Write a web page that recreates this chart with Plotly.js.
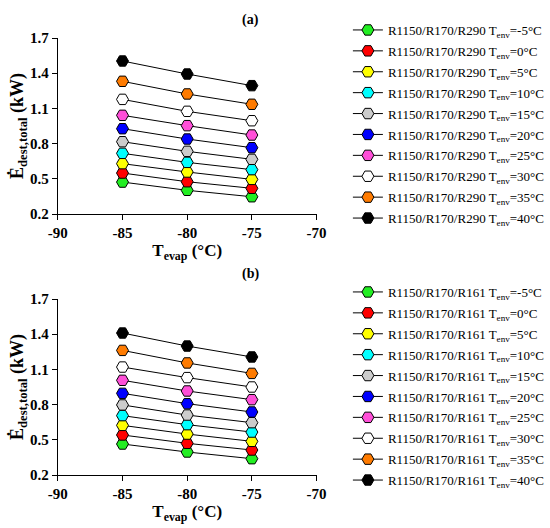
<!DOCTYPE html>
<html>
<head>
<meta charset="utf-8">
<script src="https://cdn.plot.ly/plotly-3.0.1.min.js"></script>
<style>
html,body{margin:0;padding:0;background:#fff;}
#chart{width:550px;height:528px;}
</style>
</head>
<body>
<div id="chart"></div>
<script>
// Evaporator temperatures (°C)
const tEvap = [-85, -80, -75];
// Environment temperatures (°C)
const tEnv = ['-5', '0', '5', '10', '15', '20', '25', '30', '35', '40'];
const markerColors = ['#22ee22', '#ff0000', '#ffff00', '#00ffff', '#cccccc',
                      '#0000ff', '#ff4fd8', '#ffffff', '#ff7b00', '#000000'];
// Total exergy destruction (kW), R1150/R170/R290, one row per Tenv
const r290Values = [
  [0.472, 0.402, 0.347],
  [0.549, 0.475, 0.419],
  [0.629, 0.558, 0.495],
  [0.717, 0.640, 0.578],
  [0.816, 0.734, 0.666],
  [0.927, 0.839, 0.765],
  [1.041, 0.953, 0.873],
  [1.177, 1.075, 0.995],
  [1.331, 1.223, 1.135],
  [1.504, 1.393, 1.294]
];
// Total exergy destruction (kW), R1150/R170/R161, one row per Tenv
const r161Values = [
  [0.464, 0.396, 0.339],
  [0.541, 0.470, 0.413],
  [0.623, 0.549, 0.487],
  [0.706, 0.629, 0.566],
  [0.797, 0.711, 0.646],
  [0.896, 0.808, 0.737],
  [1.007, 0.916, 0.842],
  [1.120, 1.030, 0.950],
  [1.262, 1.155, 1.066],
  [1.410, 1.299, 1.206]
];
const yTicks = [0.2, 0.5, 0.8, 1.1, 1.4, 1.7];
const xTicks = [-90, -85, -80, -75, -70];
const xTickText = ['-90', '-85', '-80', '-75', '-70'];

const FONT = '"Liberation Serif", "Times New Roman", serif';
const traces = [];
function addSet(prefix, values, xa, ya, leg) {
  values.forEach((row, i) => {
    traces.push({
      x: tEvap, y: row, xaxis: xa, yaxis: ya, legend: leg,
      legendgroup: leg + i,
      type: 'scatter', mode: 'lines+markers',
      name: prefix + ' T<sub>env</sub>=' + tEnv[i] + '°C',
      line: {color: '#000000', width: 1},
      marker: {symbol: 'hexagon2', size: 12, color: markerColors[i],
               line: {color: '#000000', width: 1}}
    });
  });
}
addSet('R1150/R170/R290', r290Values, 'x', 'y', 'legend');
addSet('R1150/R170/R161', r161Values, 'x2', 'y2', 'legend2');

function xAxis(anchor, dom) {
  return {
    domain: dom, anchor: anchor, range: [-90, -70], tickvals: xTicks,
    ticktext: xTickText,
    showline: true, linecolor: '#000', linewidth: 1, ticks: 'outside',
    ticklen: 5, tickcolor: '#000', showgrid: false, zeroline: false,
    tickfont: {family: FONT, size: 15, color: '#000', weight: 700},
    title: {text: 'T<sub>evap</sub> (°C)', standoff: 4,
            font: {family: FONT, size: 17, color: '#000', weight: 700}}
  };
}
function yAxis(anchor, dom) {
  return {
    domain: dom, anchor: anchor, range: [0.2, 1.7], tickvals: yTicks,
    ticktext: yTicks.map(v => v.toFixed(1)),
    showline: true, linecolor: '#000', linewidth: 1, ticks: 'outside',
    ticklen: 5, tickcolor: '#000', showgrid: false, zeroline: false,
    tickfont: {family: FONT, size: 15, color: '#000', weight: 700},
    title: {text: 'Ė<sub>dest,total</sub> (kW)', standoff: 1,
            font: {family: FONT, size: 18, color: '#000', weight: 700}}
  };
}
const legendBase = {
  xanchor: 'left', yanchor: 'top', bgcolor: 'rgba(0,0,0,0)',
  font: {family: FONT, size: 13, color: '#000'}, tracegroupgap: 1,
  itemwidth: 30
};
const layout = {
  width: 550, height: 528,
  margin: {l: 0, r: 0, t: 0, b: 0},
  paper_bgcolor: '#fff', plot_bgcolor: '#fff',
  font: {family: FONT, color: '#000'},
  xaxis: xAxis('y', [59/550, 323/550]),
  yaxis: yAxis('x', [1 - 214/528, 1 - 38/528]),
  xaxis2: xAxis('y2', [59/550, 323/550]),
  yaxis2: yAxis('x2', [1 - 475/528, 1 - 299/528]),
  legend: Object.assign({x: 355/550, y: 1 - 15/528}, legendBase),
  legend2: Object.assign({x: 355/550, y: 1 - 277/528}, legendBase),
  annotations: [
    {text: '(a)', x: 256/550, y: 1 - 10/528, xref: 'paper', yref: 'paper',
     showarrow: false, font: {family: FONT, size: 14, color: '#000', weight: 700}},
    {text: '(b)', x: 256/550, y: 1 - 274/528, xref: 'paper', yref: 'paper',
     showarrow: false, font: {family: FONT, size: 14, color: '#000', weight: 700}}
  ],
  showlegend: true
};
Plotly.newPlot('chart', traces, layout, {displayModeBar: false, staticPlot: true});
</script>
</body>
</html>
